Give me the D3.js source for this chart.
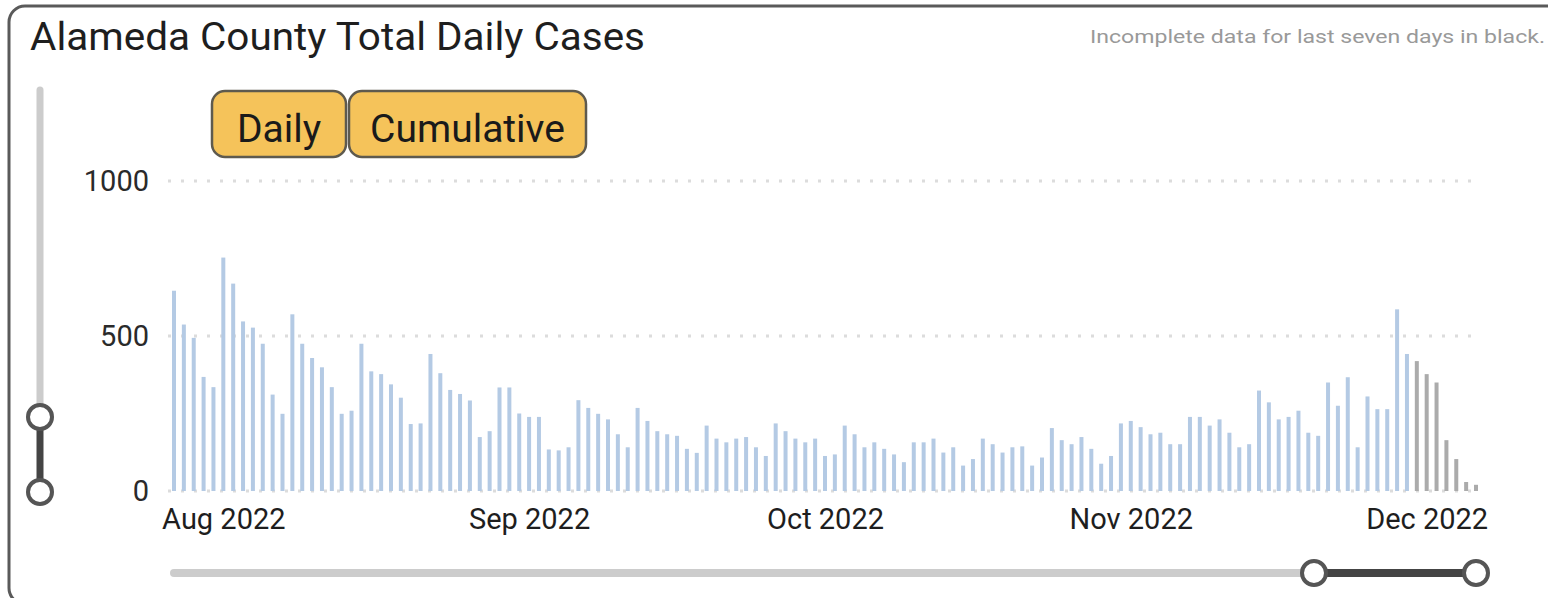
<!DOCTYPE html>
<html>
<head>
<meta charset="utf-8">
<script src="https://cdn.jsdelivr.net/npm/d3@7"></script>
<style>
  body { margin: 0; background: #ffffff; }
  svg { display: block; font-family: Roboto, "Noto Sans", sans-serif; }
</style>
</head>
<body>
<svg id="myGraph"></svg>
<script>
var width = 1548;
var height = 598;

// daily cases, one per day starting 2022-07-27
var startDate = "2022-07-27";
var cases = [
    646, 537, 494, 368, 335, 753, 669, 547, 527, 475,
    311, 249, 570, 475, 429, 399, 335, 249, 259, 475,
    386, 377, 344, 301, 216, 218, 442, 380, 326, 313,
    292, 174, 193, 334, 334, 250, 239, 239, 134, 131,
    141, 293, 268, 249, 231, 183, 141, 268, 226, 193,
    183, 178, 136, 123, 211, 169, 157, 169, 174, 141,
    113, 218, 193, 169, 157, 169, 113, 118, 211, 183,
    141, 157, 136, 118, 93, 157, 157, 169, 124, 141,
    82, 103, 169, 151, 124, 141, 144, 82, 108, 203,
    164, 151, 174, 136, 88, 113, 218, 226, 206, 183,
    188, 151, 151, 239, 239, 211, 231, 188, 141, 151,
    324, 286, 231, 239, 259, 188, 178, 350, 275, 367,
    141, 305, 264, 264, 586, 442, 419, 377, 350, 164,
    103, 29, 20
];
var incompleteDays = 7;
var yTicks = [0, 500, 1000];
var monthTicks = ["2022-08-01", "2022-09-01", "2022-10-01", "2022-11-01", "2022-12-01"];
var buttonLabels = ["Daily", "Cumulative"];

var parse = d3.timeParse("%Y-%m-%d");
var start = parse(startDate);
var data = cases.map(function(v, i) {
    return { date: d3.timeDay.offset(start, i), value: v, incomplete: i >= cases.length - incompleteDays };
});

var svg = d3.select("#myGraph")
                .attr("width", width)
                .attr("height", height);

var x = d3.scaleTime()
            .domain([data[0].date, data[data.length - 1].date])
            .range([174, 1476]);

var y = d3.scaleLinear()
            .domain([0, 1000])
            .range([491, 181]);

// outer frame
svg.append("rect")
    .attr("x", 9).attr("y", 6)
    .attr("width", 1560).attr("height", 598)
    .attr("rx", 16)
    .attr("fill", "none")
    .attr("stroke", "#5a5a5a")
    .attr("stroke-width", 3);

// title + note
svg.append("text")
    .attr("x", 30).attr("y", 50)
    .attr("font-size", 38)
    .attr("fill", "#1e1e1e")
    .attr("textLength", 615)
    .attr("lengthAdjust", "spacingAndGlyphs")
    .text("Alameda County Total Daily Cases");

svg.append("text")
    .attr("x", 1090).attr("y", 43)
    .attr("font-size", 19)
    .attr("fill", "#999999")
    .attr("textLength", 455)
    .attr("lengthAdjust", "spacingAndGlyphs")
    .text("Incomplete data for last seven days in black.");

// gridlines
svg.append("g").selectAll("line")
    .data(yTicks)
    .enter().append("line")
    .attr("x1", 168).attr("x2", 1478)
    .attr("y1", function(d){ return y(d); })
    .attr("y2", function(d){ return y(d); })
    .attr("stroke", "#dcdcdc")
    .attr("stroke-width", 3)
    .attr("stroke-dasharray", "3,10");

// bars
svg.append("g").selectAll("rect")
    .data(data)
    .enter().append("rect")
    .attr("x", function(d){ return x(d.date) - 2; })
    .attr("width", 4)
    .attr("y", function(d){ return y(d.value); })
    .attr("height", function(d){ return y(0) - y(d.value); })
    .attr("fill", function(d){ return d.incomplete ? "#ababab" : "#b4cae4"; });

// y axis labels
var yAxis = svg.append("g")
    .attr("transform", "translate(149,0)")
    .call(d3.axisLeft(y).tickValues(yTicks).tickFormat(d3.format("d")).tickSize(0).tickPadding(0));
yAxis.select(".domain").remove();
yAxis.selectAll("text")
    .attr("font-family", "Roboto, 'Noto Sans', sans-serif")
    .attr("font-size", 29)
    .attr("fill", "#2a2a2a");

// x axis labels
var xAxis = svg.append("g")
    .attr("transform", "translate(0,500)")
    .call(d3.axisBottom(x)
        .tickValues(monthTicks.map(parse))
        .tickFormat(d3.timeFormat("%b %Y"))
        .tickSize(0).tickPadding(0));
xAxis.select(".domain").remove();
xAxis.selectAll("text")
    .attr("font-family", "Roboto, 'Noto Sans', sans-serif")
    .attr("font-size", 29)
    .attr("fill", "#1e1e1e")
    .attr("dy", "1em");

// buttons
var buttons = [
    { label: buttonLabels[0], x: 212, w: 134 },
    { label: buttonLabels[1], x: 349, w: 237 }
];
var btn = svg.append("g").selectAll("g")
    .data(buttons)
    .enter().append("g");
btn.append("rect")
    .attr("x", function(d){ return d.x; })
    .attr("y", 91)
    .attr("width", function(d){ return d.w; })
    .attr("height", 66)
    .attr("rx", 13)
    .attr("fill", "#f5c35a")
    .attr("stroke", "#5e5a4e")
    .attr("stroke-width", 2.5);
btn.append("text")
    .attr("x", function(d){ return d.x + d.w / 2; })
    .attr("y", 142)
    .attr("text-anchor", "middle")
    .attr("font-size", 39)
    .attr("fill", "#1a1a1a")
    .text(function(d){ return d.label; });

// vertical range slider (left)
svg.append("line")
    .attr("x1", 40).attr("x2", 40).attr("y1", 90).attr("y2", 417)
    .attr("stroke", "#cccccc").attr("stroke-width", 7).attr("stroke-linecap", "round");
svg.append("line")
    .attr("x1", 40).attr("x2", 40).attr("y1", 417).attr("y2", 492)
    .attr("stroke", "#444444").attr("stroke-width", 7);

// horizontal range slider (bottom)
svg.append("line")
    .attr("x1", 174).attr("x2", 1314).attr("y1", 573).attr("y2", 573)
    .attr("stroke", "#cccccc").attr("stroke-width", 8).attr("stroke-linecap", "round");
svg.append("line")
    .attr("x1", 1314).attr("x2", 1476).attr("y1", 573).attr("y2", 573)
    .attr("stroke", "#444444").attr("stroke-width", 8);

var handles = [[40, 417], [40, 492], [1314, 573], [1476, 573]];
svg.append("g").selectAll("circle")
    .data(handles)
    .enter().append("circle")
    .attr("cx", function(d){ return d[0]; })
    .attr("cy", function(d){ return d[1]; })
    .attr("r", 12)
    .attr("fill", "#ffffff")
    .attr("stroke", "#555555")
    .attr("stroke-width", 4);
</script>
</body>
</html>
